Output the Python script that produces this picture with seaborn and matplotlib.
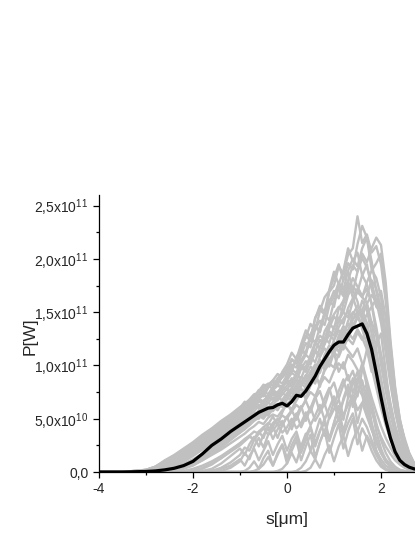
import numpy as np
import pandas as pd
import matplotlib
matplotlib.use("Agg")
import matplotlib.pyplot as plt
import seaborn as sns

# common s grid [um]
s_grid = [-4.0, -3.5, -3.0, -2.8, -2.6, -2.4, -2.2, -2.0, -1.8, -1.6, -1.4, -1.2,
          -1.0, -0.9, -0.8, -0.7, -0.6, -0.5, -0.4, -0.3, -0.2, -0.1,
          0.0, 0.1, 0.2, 0.3, 0.4, 0.5, 0.6, 0.7, 0.8, 0.9,
          1.0, 1.1, 1.2, 1.3, 1.4, 1.5, 1.6, 1.7, 1.8, 1.9,
          2.0, 2.1, 2.2, 2.3, 2.4, 2.5, 2.6, 2.7, 2.8]

# power of the single shots, in units of 1e10 W
shot_01 = [0, 0, 0.2, 0.5, 1.1, 1.6, 2.2, 2.8, 3.5, 4.1, 4.8, 5.4,
           6.1, 6.4, 6.8, 7.3, 7.4, 8.0, 8.3, 8.1, 8.8, 9.3,
           9.5, 10.6, 10.2, 11.4, 12.8, 12.3, 14.5, 15.2, 14.8, 16.9,
           17.5, 19.3, 18.6, 20.4, 21.0, 24.0, 21.5, 22.3, 20.6, 21.2,
           19.5, 16.0, 11.5, 7.5, 4.8, 3.2, 1.8, 0.9, 0.4]
shot_02 = [0, 0, 0.1, 0.3, 0.7, 1.2, 1.8, 2.4, 3.0, 3.6, 4.2, 4.9,
           5.5, 5.9, 6.3, 6.5, 7.0, 7.3, 7.0, 7.8, 8.2, 8.0,
           8.9, 9.6, 9.3, 10.5, 11.2, 12.8, 12.1, 13.6, 14.9, 14.2,
           16.0, 17.2, 16.5, 18.0, 19.4, 18.8, 20.5, 19.7, 21.0, 22.0,
           21.3, 17.8, 12.4, 8.0, 5.0, 3.0, 1.7, 0.8, 0.3]
shot_03 = [0, 0, 0.1, 0.3, 0.6, 1.0, 1.5, 2.0, 2.6, 3.3, 3.9, 4.5,
           5.1, 5.6, 5.9, 6.2, 6.9, 6.6, 7.2, 7.7, 7.4, 8.1,
           8.4, 8.0, 9.3, 10.1, 9.7, 11.0, 12.2, 11.6, 13.2, 14.0,
           13.4, 15.3, 16.1, 17.6, 16.9, 18.8, 20.1, 19.2, 17.8, 16.0,
           14.0, 11.2, 8.3, 5.7, 3.6, 2.1, 1.2, 0.6, 0.3]
shot_04 = [0, 0, 0.1, 0.2, 0.5, 0.9, 1.3, 1.8, 2.4, 3.0, 3.6, 4.2,
           4.8, 5.2, 5.5, 6.0, 6.3, 6.1, 6.8, 7.3, 7.0, 7.6,
           8.1, 8.8, 8.5, 9.7, 10.4, 10.1, 11.3, 12.4, 12.0, 13.5,
           14.6, 14.0, 15.8, 17.0, 18.2, 17.4, 16.5, 17.2, 15.8, 13.6,
           11.0, 8.6, 6.2, 4.2, 2.7, 1.6, 0.9, 0.4, 0.2]
shot_05 = [0, 0, 0, 0.1, 0.3, 0.6, 1.0, 1.5, 2.1, 2.7, 3.3, 3.9,
           4.5, 4.8, 5.3, 5.6, 5.4, 6.1, 6.5, 6.2, 6.9, 7.4,
           7.1, 7.8, 8.6, 8.2, 9.0, 9.9, 9.5, 10.8, 11.6, 11.1,
           12.4, 13.3, 12.7, 14.2, 15.0, 14.4, 16.1, 15.2, 13.0, 10.4,
           7.8, 5.6, 3.9, 2.6, 1.6, 0.9, 0.5, 0.2, 0.1]
shot_06 = [0, 0, 0.2, 0.4, 0.9, 1.4, 2.0, 2.6, 3.2, 3.8, 4.4, 5.0,
           5.7, 6.2, 6.0, 6.7, 7.4, 7.1, 7.9, 8.5, 8.2, 9.0,
           9.8, 9.3, 10.8, 11.5, 11.0, 12.6, 13.7, 13.1, 15.0, 16.2,
           15.5, 17.6, 18.9, 21.0, 19.8, 20.6, 18.4, 19.5, 17.2, 15.5,
           15.0, 12.6, 9.2, 6.3, 4.1, 2.6, 1.5, 0.7, 0.3]
shot_07 = [0, 0, 0, 0.1, 0.2, 0.4, 0.7, 1.1, 1.6, 2.2, 2.8, 3.4,
           4.0, 4.3, 4.7, 5.2, 5.0, 5.6, 6.0, 5.7, 6.3, 6.6,
           6.2, 7.0, 7.6, 7.1, 8.0, 8.8, 8.3, 9.6, 10.4, 9.9,
           11.2, 12.0, 11.5, 12.8, 13.6, 14.5, 13.8, 12.9, 11.0, 9.0,
           6.8, 5.0, 3.4, 2.3, 1.4, 0.8, 0.4, 0.2, 0.1]
shot_08 = [0, 0, 0, 0, 0.1, 0.3, 0.5, 0.9, 1.3, 1.9, 2.5, 3.1,
           3.7, 4.1, 4.4, 4.9, 5.3, 5.0, 5.6, 6.1, 5.8, 6.5,
           7.0, 6.7, 7.5, 8.3, 7.9, 8.9, 9.8, 9.3, 10.6, 11.5,
           11.0, 12.5, 13.4, 12.8, 14.3, 15.1, 14.6, 15.8, 16.6, 16.0,
           17.0, 14.5, 10.5, 7.0, 4.5, 2.8, 1.6, 0.8, 0.3]
shot_09 = [0, 0, 0, 0, 0.1, 0.2, 0.4, 0.7, 1.1, 1.6, 2.1, 2.7,
           3.3, 3.6, 4.0, 4.3, 4.7, 4.5, 5.1, 5.4, 5.2, 5.8,
           6.3, 5.9, 6.7, 7.4, 7.0, 8.1, 8.8, 8.4, 9.5, 10.2,
           9.8, 11.1, 12.0, 11.4, 10.8, 11.6, 10.2, 8.6, 7.0, 5.6,
           4.3, 3.2, 2.3, 1.5, 0.9, 0.5, 0.3, 0.1, 0]
shot_10 = [0, 0, 0.1, 0.3, 0.7, 1.2, 1.8, 2.4, 3.1, 3.7, 4.3, 4.9,
           5.4, 5.8, 6.2, 6.7, 7.0, 7.6, 7.3, 8.0, 8.6, 8.3,
           9.1, 9.9, 10.3, 11.6, 11.1, 12.9, 13.8, 13.2, 14.7, 15.9,
           17.0, 16.3, 18.1, 19.6, 19.0, 21.4, 23.1, 22.0, 19.0, 18.2,
           16.4, 13.0, 9.4, 6.4, 4.2, 2.6, 1.5, 0.7, 0.3]
shot_11 = [0, 0, 0, 0.1, 0.2, 0.5, 0.8, 1.2, 1.7, 2.3, 2.9, 3.5,
           4.1, 4.5, 4.8, 5.1, 5.6, 5.4, 5.9, 6.3, 6.0, 6.8,
           7.3, 7.8, 7.4, 8.3, 9.0, 8.6, 9.4, 10.1, 9.7, 10.5,
           11.2, 10.8, 11.9, 12.5, 12.0, 13.1, 12.4, 13.6, 14.1, 12.8,
           11.0, 8.8, 6.5, 4.4, 2.9, 1.8, 1.0, 0.5, 0.2]
shot_12 = [0, 0, 0.2, 0.5, 1.0, 1.5, 2.1, 2.7, 3.3, 3.9, 4.6, 5.2,
           5.9, 6.3, 6.7, 7.1, 7.6, 8.2, 8.0, 8.6, 9.2, 8.9,
           9.7, 10.5, 10.2, 11.8, 12.6, 13.9, 13.3, 15.1, 16.4, 17.0,
           18.2, 19.5, 18.0, 18.8, 17.1, 16.0, 14.2, 12.8, 10.6, 8.4,
           6.5, 4.8, 3.4, 2.3, 1.4, 0.8, 0.4, 0.2, 0.1]
shot_13 = [0, 0, 0, 0.1, 0.3, 0.7, 1.1, 1.6, 2.2, 2.8, 3.4, 4.0,
           4.6, 5.0, 5.3, 5.7, 6.2, 5.9, 6.5, 7.0, 6.7, 7.3,
           7.8, 7.4, 8.2, 8.9, 8.5, 9.4, 10.0, 9.6, 10.8, 11.5,
           11.1, 12.3, 13.0, 12.5, 13.8, 14.5, 13.9, 14.8, 15.5, 16.2,
           15.0, 12.0, 8.6, 5.8, 3.8, 2.4, 1.4, 0.7, 0.3]
shot_14 = [0, 0, 0.1, 0.2, 0.5, 0.8, 1.2, 1.7, 2.3, 2.9, 3.5, 4.1,
           4.7, 5.1, 5.5, 5.2, 5.8, 6.3, 6.0, 6.6, 7.1, 6.7,
           7.4, 7.9, 7.5, 8.4, 9.1, 8.7, 9.8, 10.5, 10.0, 11.2,
           11.9, 11.3, 12.4, 13.1, 12.5, 13.4, 12.6, 11.5, 9.8, 7.9,
           6.0, 4.4, 3.1, 2.0, 1.2, 0.7, 0.4, 0.2, 0.1]
shot_15 = [0, 0, 0.1, 0.4, 0.8, 1.3, 1.9, 2.5, 3.2, 3.9, 4.5, 5.1,
           5.6, 6.0, 6.5, 6.9, 7.2, 7.8, 8.1, 7.8, 8.4, 8.9,
           9.3, 10.1, 9.8, 11.0, 12.1, 11.7, 13.4, 14.2, 13.8, 15.6,
           16.5, 17.8, 17.1, 18.9, 20.0, 19.3, 21.0, 22.0, 19.8, 17.0,
           14.6, 12.0, 8.8, 6.0, 3.9, 2.4, 1.4, 0.7, 0.3]
shot_16 = [0, 0, 0.2, 0.5, 1.0, 1.5, 2.0, 2.6, 3.3, 4.0, 4.6, 5.3,
           6.0, 6.6, 6.3, 7.0, 7.7, 7.4, 8.2, 8.6, 8.3, 9.4,
           10.1, 11.2, 10.6, 12.0, 13.3, 12.6, 14.4, 15.6, 15.0, 17.1,
           18.8, 17.6, 16.7, 17.9, 16.4, 15.1, 14.8, 13.2, 11.0, 8.7,
           6.6, 4.9, 3.5, 2.4, 1.5, 0.9, 0.5, 0.2, 0.1]
shot_17 = [0, 0, 0.1, 0.2, 0.5, 0.9, 1.4, 1.9, 2.6, 3.2, 3.8, 4.4,
           5.0, 5.4, 5.8, 6.2, 6.0, 6.7, 7.1, 6.8, 7.5, 8.0,
           7.7, 8.5, 9.2, 8.8, 9.9, 10.8, 10.3, 11.7, 12.6, 12.1,
           13.6, 14.5, 13.9, 15.4, 16.3, 17.2, 16.4, 15.9, 14.0, 11.5,
           8.8, 6.4, 4.5, 3.0, 1.9, 1.1, 0.6, 0.3, 0.1]
shot_18 = [0, 0, 0, 0.2, 0.5, 0.9, 1.4, 2.0, 2.6, 3.2, 3.8, 4.4,
           5.0, 5.5, 5.8, 6.1, 6.6, 6.4, 7.0, 7.5, 7.2, 7.9,
           8.6, 8.3, 9.1, 9.9, 9.5, 10.7, 11.4, 11.0, 12.3, 13.2,
           12.8, 14.2, 15.0, 14.5, 16.0, 16.9, 16.4, 17.8, 18.9, 19.6,
           20.5, 17.0, 12.0, 7.8, 4.9, 3.0, 1.7, 0.8, 0.3]
shot_19 = [0, 0, 0.1, 0.3, 0.6, 1.0, 1.5, 2.1, 2.7, 3.3, 3.9, 4.6,
           5.2, 5.6, 5.9, 6.4, 6.8, 6.5, 7.2, 7.6, 7.3, 8.0,
           8.5, 8.1, 9.0, 9.8, 9.4, 10.5, 11.3, 10.8, 12.0, 12.9,
           12.4, 13.6, 14.4, 15.1, 14.3, 14.9, 13.4, 12.0, 10.2, 8.3,
           6.4, 4.7, 3.3, 2.2, 1.4, 0.8, 0.4, 0.2, 0.1]
shot_20 = [0, 0, 0.1, 0.3, 0.7, 1.1, 1.6, 2.2, 2.8, 3.4, 4.0, 4.7,
           5.3, 5.7, 6.1, 6.4, 6.9, 7.2, 7.0, 7.7, 8.1, 7.9,
           8.6, 9.3, 9.0, 10.2, 11.0, 10.6, 12.0, 12.8, 12.4, 14.0,
           14.8, 15.5, 15.0, 16.6, 17.4, 16.9, 18.5, 17.6, 15.8, 13.0,
           10.1, 7.6, 5.4, 3.6, 2.3, 1.4, 0.8, 0.4, 0.2]
# shots that start later on the left flank
shot_21 = [0, 0, 0, 0, 0, 0.1, 0.3, 0.6, 1.1, 1.7, 2.3, 3.0,
           3.7, 4.0, 4.4, 4.8, 5.1, 5.5, 5.3, 5.9, 6.4, 6.1,
           6.8, 7.5, 7.2, 8.1, 8.9, 8.5, 9.6, 10.5, 10.0, 11.3,
           12.2, 11.7, 13.0, 13.9, 13.4, 14.6, 15.2, 14.0, 12.0, 9.6,
           7.2, 5.2, 3.6, 2.4, 1.5, 0.9, 0.5, 0.2, 0.1]
shot_22 = [0, 0, 0, 0, 0, 0, 0.1, 0.3, 0.6, 1.0, 1.5, 2.1,
           2.7, 3.0, 3.4, 3.8, 3.6, 4.2, 4.6, 4.3, 4.9, 5.3,
           5.0, 5.7, 6.3, 5.9, 6.8, 7.5, 7.1, 8.2, 8.9, 8.4,
           9.5, 10.2, 9.7, 11.0, 10.4, 9.6, 8.4, 7.1, 5.7, 4.4,
           3.3, 2.4, 1.7, 1.1, 0.7, 0.4, 0.2, 0.1, 0]
shot_23 = [0, 0, 0, 0, 0.1, 0.2, 0.5, 0.9, 1.4, 2.0, 2.6, 3.2,
           3.9, 4.2, 4.6, 5.0, 5.5, 5.2, 5.8, 6.3, 6.0, 6.7,
           7.3, 7.0, 7.9, 8.6, 8.2, 9.3, 10.1, 9.7, 11.0, 11.9,
           11.4, 12.8, 13.7, 13.2, 14.8, 15.6, 15.1, 16.6, 18.0, 17.2,
           15.4, 12.6, 9.0, 6.0, 3.9, 2.4, 1.4, 0.7, 0.3]
shot_24 = [0, 0, 0, 0, 0, 0, 0, 0.1, 0.4, 0.8, 1.3, 1.9,
           2.5, 2.9, 3.3, 3.1, 3.8, 4.2, 3.9, 4.6, 5.0, 4.4,
           5.2, 5.8, 4.9, 6.0, 6.7, 5.6, 6.9, 7.6, 6.2, 7.6,
           8.4, 6.9, 8.2, 9.1, 7.4, 8.8, 7.6, 6.0, 4.4, 3.0,
           1.9, 1.2, 0.7, 0.4, 0.2, 0.1, 0, 0, 0]
# late / weak shots
shot_25 = [0, 0, 0, 0, 0, 0, 0, 0, 0.1, 0.3, 0.8, 1.5,
           2.2, 1.6, 2.6, 3.3, 2.4, 3.5, 4.2, 3.1, 4.0, 4.8,
           3.6, 4.6, 5.5, 4.2, 5.2, 6.1, 4.8, 5.6, 6.4, 5.0,
           5.9, 6.8, 5.3, 6.3, 7.2, 5.8, 6.5, 5.2, 4.0, 2.8,
           1.8, 1.0, 0.5, 0.2, 0.1, 0, 0, 0, 0]
shot_26 = [0, 0, 0, 0, 0, 0, 0, 0, 0, 0.1, 0.3, 0.6,
           1.2, 0.6, 1.5, 2.2, 1.1, 2.0, 2.9, 1.6, 2.6, 3.4,
           2.0, 3.1, 3.8, 2.3, 3.4, 4.3, 2.7, 3.9, 4.6, 3.0,
           4.2, 5.0, 3.4, 4.6, 5.5, 3.8, 5.0, 4.2, 3.0, 2.0,
           1.2, 0.6, 0.3, 0.1, 0, 0, 0, 0, 0]
shot_27 = [0, 0, 0, 0, 0, 0, 0, 0, 0, 0, 0, 0,
           0, 0, 0, 0.1, 0.3, 0.7, 1.4, 0.6, 1.8, 2.6,
           1.3, 2.5, 3.4, 1.8, 3.0, 4.2, 2.4, 3.8, 5.0, 3.1,
           4.6, 6.0, 3.8, 5.5, 7.2, 4.6, 6.4, 7.8, 4.5, 2.0,
           0.8, 0.3, 0.1, 0, 0, 0, 0, 0, 0]
shot_28 = [0, 0, 0, 0, 0, 0, 0, 0, 0, 0, 0, 0,
           0, 0, 0, 0, 0, 0, 0, 0, 0.1, 0.3,
           0.8, 1.8, 0.9, 2.4, 3.6, 2.0, 3.5, 5.0, 3.4, 5.2,
           6.6, 4.8, 6.9, 8.2, 6.3, 8.6, 10.2, 8.0, 6.0, 3.8,
           2.2, 1.1, 0.5, 0.2, 0, 0, 0, 0, 0]
shot_29 = [0, 0, 0, 0, 0, 0, 0, 0, 0, 0, 0, 0,
           0, 0.1, 0.4, 1.0, 0.3, 1.3, 2.0, 0.6, 1.6, 2.5,
           0.8, 2.0, 3.0, 1.1, 2.4, 3.5, 1.4, 2.8, 3.9, 1.8,
           3.2, 4.5, 2.2, 3.8, 5.0, 2.6, 4.1, 3.2, 2.0, 1.1,
           0.5, 0.2, 0.1, 0, 0, 0, 0, 0, 0]
shot_30 = [0, 0, 0, 0, 0, 0, 0, 0, 0, 0, 0, 0,
           0, 0, 0, 0, 0, 0, 0, 0, 0, 0,
           0, 0, 0.1, 0.4, 1.0, 2.0, 1.2, 2.8, 4.0, 2.9,
           4.6, 6.2, 4.9, 7.0, 8.8, 7.1, 9.6, 11.5, 9.4, 12.0,
           13.0, 9.5, 6.0, 3.6, 2.0, 1.0, 0.5, 0.2, 0]
shot_31 = [0, 0, 0, 0, 0, 0, 0, 0, 0, 0, 0.1, 0.4,
           1.0, 1.8, 1.2, 2.4, 3.2, 2.3, 3.5, 4.3, 3.2, 4.4,
           5.2, 4.0, 5.3, 6.2, 4.8, 6.0, 7.1, 5.6, 6.9, 7.9,
           6.3, 7.6, 8.7, 7.0, 8.3, 9.4, 7.6, 8.2, 6.5, 4.6,
           3.0, 1.8, 1.0, 0.5, 0.2, 0.1, 0, 0, 0]
shot_32 = [0, 0, 0, 0, 0, 0, 0, 0.1, 0.3, 0.7, 1.3, 2.0,
           2.7, 3.1, 3.4, 3.0, 3.6, 4.1, 3.5, 3.9, 4.5, 3.7,
           4.2, 5.0, 4.1, 4.6, 5.6, 4.4, 5.3, 6.3, 4.9, 6.0,
           7.1, 5.5, 6.7, 8.0, 6.1, 7.4, 8.6, 6.5, 4.6, 3.0,
           1.8, 1.0, 0.5, 0.2, 0.1, 0, 0, 0, 0]
shot_33 = [0, 0, 0, 0, 0, 0, 0, 0, 0, 0, 0, 0,
           0, 0, 0, 0, 0, 0, 0, 0, 0, 0,
           0, 0, 0, 0, 0.1, 0.4, 1.2, 0.4, 1.6, 2.5,
           1.0, 2.4, 3.4, 1.5, 3.0, 4.0, 2.0, 3.4, 2.6, 1.6,
           0.8, 0.3, 0.1, 0, 0, 0, 0, 0, 0]
shot_34 = [0, 0, 0, 0, 0, 0, 0, 0, 0, 0.1, 0.4, 0.9,
           1.6, 2.3, 2.0, 3.0, 3.8, 3.2, 4.5, 5.2, 4.4, 5.6,
           6.5, 5.6, 7.0, 7.9, 6.8, 8.4, 9.3, 8.0, 9.7, 10.6,
           11.2, 9.4, 10.3, 8.6, 9.5, 8.0, 7.2, 5.6, 4.0, 2.8,
           1.8, 1.1, 0.6, 0.3, 0.1, 0, 0, 0, 0]

# averaged power, in units of 1e10 W
mean_power = [0, 0, 0.05, 0.1, 0.2, 0.35, 0.6, 1.0, 1.7, 2.5, 3.1, 3.8,
              4.4, 4.7, 5.0, 5.3, 5.6, 5.8, 6.0, 6.05, 6.3, 6.45,
              6.2, 6.6, 7.2, 7.1, 7.6, 8.3, 9.0, 9.9, 10.6, 11.3,
              11.9, 12.2, 12.2, 12.9, 13.5, 13.7, 13.9, 13.0, 11.5, 9.3,
              7.0, 4.9, 3.2, 1.9, 1.1, 0.7, 0.45, 0.3, 0.2]

shots = [shot_01, shot_02, shot_03, shot_04, shot_05, shot_06, shot_07, shot_08,
         shot_09, shot_10, shot_11, shot_12, shot_13, shot_14, shot_15, shot_16,
         shot_17, shot_18, shot_19, shot_20, shot_21, shot_22, shot_23, shot_24,
         shot_25, shot_26, shot_27, shot_28, shot_29, shot_30, shot_31, shot_32,
         shot_33, shot_34]

y_ticks = [0, 5e10, 1e11, 1.5e11, 2e11, 2.5e11]
y_tick_labels = ["0,0", r"5,0x10$^{\mathregular{10}}$", r"1,0x10$^{\mathregular{11}}$",
                 r"1,5x10$^{\mathregular{11}}$", r"2,0x10$^{\mathregular{11}}$",
                 r"2,5x10$^{\mathregular{11}}$"]
x_ticks = [-4, -2, 0, 2]

frames = []
for i, p in enumerate(shots):
    frames.append(pd.DataFrame({"s": s_grid, "P": np.array(p) * 1e10, "shot": i}))
df = pd.concat(frames, ignore_index=True)
df_mean = pd.DataFrame({"s": s_grid, "P": np.array(mean_power) * 1e10})

sns.set_style("ticks")
plt.rcParams['font.family'] = ['Liberation Sans', 'DejaVu Sans']
plt.rcParams['mathtext.default'] = 'regular'

fig = plt.figure(figsize=(4.15, 5.37), dpi=100)
ax = fig.add_axes([99 / 415, 65 / 537, 376 / 415, 277 / 537])

sns.lineplot(data=df, x="s", y="P", units="shot", estimator=None,
             color="#c0c0c0", lw=1.7, ax=ax, legend=False)
sns.lineplot(data=df_mean, x="s", y="P", color="black", lw=2.3, ax=ax)

ax.set_xlim(-4, 4)
ax.set_ylim(0, 2.6e11)
ax.set_xticks(x_ticks)
ax.set_xticklabels([str(t) for t in x_ticks])
ax.set_xticks([-3, -1, 1, 3], minor=True)
ax.set_yticks(y_ticks)
ax.set_yticklabels(y_tick_labels)
ax.set_yticks([2.5e10, 7.5e10, 1.25e11, 1.75e11, 2.25e11], minor=True)
ax.tick_params(which="major", direction="out", length=4, width=0.9, labelsize=10, color="black")
ax.tick_params(which="minor", direction="out", length=2.5, width=0.9, color="black")
ax.set_xlabel("s[μm]", fontsize=12.5, labelpad=11)
ax.set_ylabel("P[W]", fontsize=12.5)
ax.yaxis.set_label_coords(-0.163, 0.49)
sns.despine(ax=ax)
for sp in ["left", "bottom"]:
    ax.spines[sp].set_linewidth(0.9)
    ax.spines[sp].set_color("black")

fig.savefig("out.png", dpi=100)
